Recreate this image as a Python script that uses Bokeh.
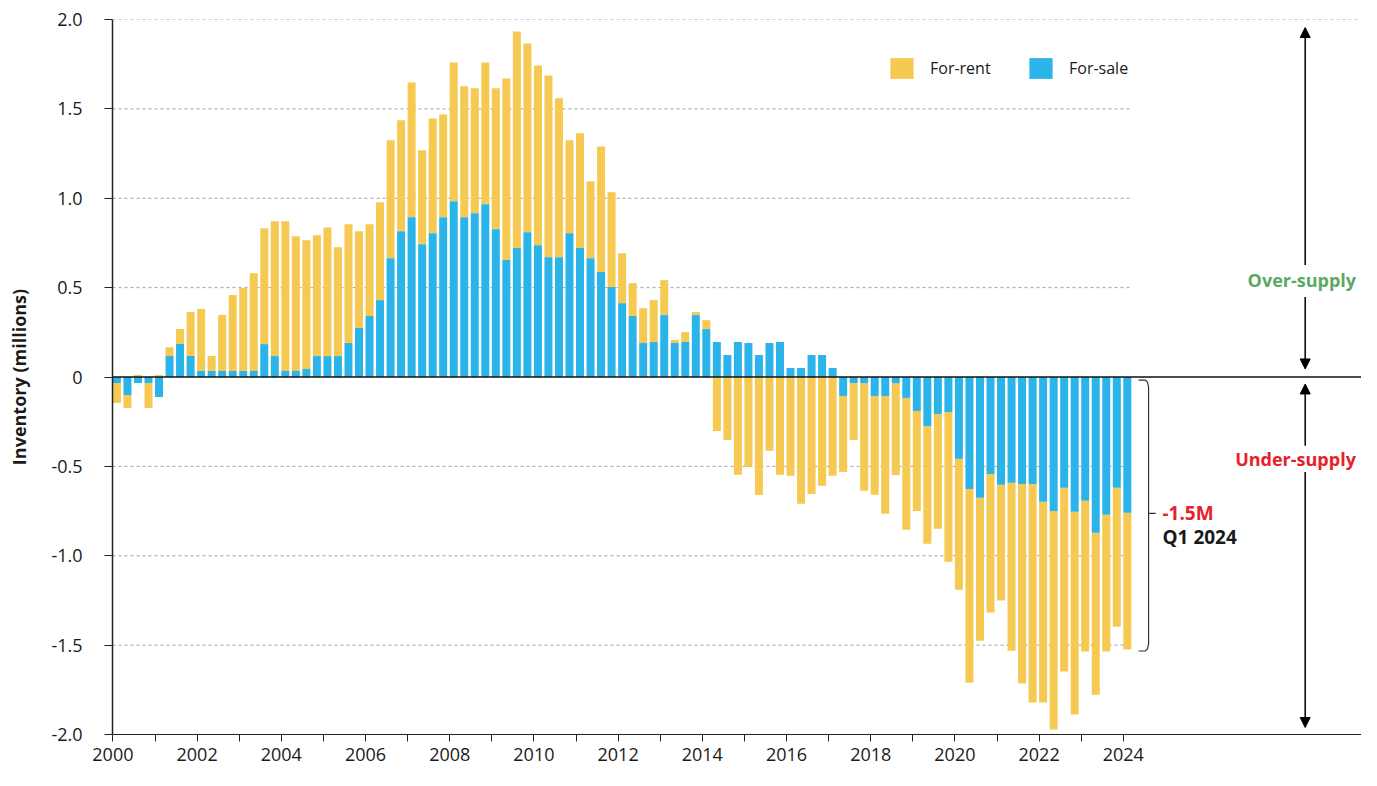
from bokeh.plotting import figure
from bokeh.models import (FixedTicker, Legend, LegendItem, Arrow, NormalHead, Label,
                          Span, CustomJSTickFormatter, ColumnDataSource)
from bokeh.embed import file_html
from bokeh.resources import INLINE

# ---------------- data (millions of units, quarterly 2000 Q1 .. 2024 Q1) ----------------
start_year = 2000
year_ticks = list(range(2000, 2025))
y_ticks = [-2.0, -1.5, -1.0, -0.5, 0.0, 0.5, 1.0, 1.5, 2.0]

for_sale = [
    -0.034, -0.100, -0.034, -0.034,   # 2000
    -0.112, 0.117, 0.184, 0.117,      # 2001
    0.034, 0.034, 0.034, 0.034,       # 2002
    0.034, 0.034, 0.184, 0.117,       # 2003
    0.034, 0.034, 0.045, 0.117,       # 2004
    0.117, 0.117, 0.190, 0.274,       # 2005
    0.341, 0.430, 0.665, 0.816,       # 2006
    0.894, 0.743, 0.804, 0.894,       # 2007
    0.983, 0.894, 0.916, 0.966,       # 2008
    0.827, 0.654, 0.721, 0.810,       # 2009
    0.737, 0.670, 0.670, 0.804,       # 2010
    0.721, 0.665, 0.587, 0.503,       # 2011
    0.413, 0.341, 0.190, 0.196,       # 2012
    0.346, 0.190, 0.196, 0.346,       # 2013
    0.268, 0.196, 0.123, 0.196,       # 2014
    0.190, 0.123, 0.190, 0.196,       # 2015
    0.050, 0.050, 0.123, 0.123,       # 2016
    0.050, -0.106, -0.034, -0.034,    # 2017
    -0.106, -0.106, -0.034, -0.117,   # 2018
    -0.190, -0.274, -0.207, -0.196,   # 2019
    -0.458, -0.626, -0.676, -0.542,   # 2020
    -0.603, -0.592, -0.598, -0.598,   # 2021
    -0.698, -0.749, -0.620, -0.754,   # 2022
    -0.693, -0.871, -0.771, -0.620,   # 2023
    -0.760,                           # 2024 Q1
]

for_rent = [
    -0.112, -0.073, 0.011, -0.140,    # 2000
    0.011, 0.050, 0.084, 0.246,       # 2001
    0.346, 0.084, 0.313, 0.425,       # 2002
    0.464, 0.547, 0.648, 0.754,       # 2003
    0.838, 0.754, 0.720, 0.676,       # 2004
    0.720, 0.609, 0.665, 0.542,       # 2005
    0.514, 0.547, 0.659, 0.620,       # 2006
    0.754, 0.525, 0.642, 0.575,       # 2007
    0.777, 0.732, 0.699, 0.794,       # 2008
    0.788, 1.016, 1.212, 1.056,       # 2009
    1.006, 1.017, 0.889, 0.520,       # 2010
    0.642, 0.430, 0.703, 0.531,       # 2011
    0.280, 0.184, 0.195, 0.234,       # 2012
    0.196, 0.017, 0.055, 0.017,       # 2013
    0.050, -0.302, -0.352, -0.547,    # 2014
    -0.503, -0.660, -0.413, -0.547,   # 2015
    -0.553, -0.709, -0.654, -0.609,   # 2016
    -0.553, -0.425, -0.318, -0.603,   # 2017
    -0.553, -0.659, -0.514, -0.737,   # 2018
    -0.559, -0.659, -0.642, -0.838,   # 2019
    -0.732, -1.084, -0.799, -0.776,   # 2020
    -0.648, -0.939, -1.117, -1.223,   # 2021
    -1.123, -1.223, -1.028, -1.134,   # 2022
    -0.843, -0.906, -0.765, -0.777,   # 2023
    -0.765,                           # 2024 Q1
]

YELLOW = "#F5C952"
BLUE = "#2BB4E9"
FONT = "Open Sans"
TXT = "#1a1a1a"

# ---------------- stacking ----------------
n = len(for_sale)
xq = [start_year + i * 0.25 + 0.095 for i in range(n)]
sale_top = list(for_sale)
sale_bot = [0.0] * n
rent_bot = [s if (s >= 0) == (r >= 0) else 0.0 for s, r in zip(for_sale, for_rent)]
rent_top = [b + r for b, r in zip(rent_bot, for_rent)]

src = ColumnDataSource(dict(x=xq, sb=sale_bot, st=sale_top, rb=rent_bot, rt=rent_top))

# ---------------- figure ----------------
W, H = 1361, 770
ML, MR, MT, MB = 112, 0, 19, 36
px_per_year = 42.1
x0 = 1999.99
x1 = x0 + (W - ML - MR) / px_per_year

p = figure(width=W, height=H, x_range=(x0, x1), y_range=(-2, 2),
           output_backend="svg", toolbar_location=None,
           min_border_left=ML, min_border_right=MR, min_border_top=MT, min_border_bottom=MB)
p.outline_line_color = None
p.xgrid.visible = False
p.ygrid.visible = False
p.background_fill_color = "white"
p.border_fill_color = "white"

# grid lines (dotted)
grid_levels = [v for v in y_ticks if v not in (0.0, 2.0, -2.0)]
p.segment(x0=[x0] * len(grid_levels), y0=grid_levels, x1=[2024.18] * len(grid_levels),
          y1=grid_levels, line_color="#a0a0a0", line_width=1, line_dash="3 3")
p.add_layout(Span(location=2.0, dimension="width", line_color="#a0a0a0",
                  line_width=1, line_dash="3 3"))

rent_r = p.vbar(x="x", bottom="rb", top="rt", width=0.19, source=src,
                fill_color=YELLOW, line_color=None)
sale_r = p.vbar(x="x", bottom="sb", top="st", width=0.19, source=src,
                fill_color=BLUE, line_color=None)

p.add_layout(Span(location=0, dimension="width", line_color="#111111", line_width=1.5))

# axes
p.yaxis.ticker = FixedTicker(ticks=y_ticks)
p.yaxis.formatter = CustomJSTickFormatter(code="return Math.abs(tick) < 1e-9 ? '0' : tick.toFixed(1);")
p.yaxis.axis_line_color = "#222222"
p.yaxis.axis_line_width = 1.5
p.yaxis.major_tick_line_color = "#222222"
p.yaxis.major_tick_out = 8
p.yaxis.major_tick_in = 0
p.yaxis.minor_tick_line_color = None
p.yaxis.major_label_standoff = 22
p.yaxis.major_label_text_font = FONT
p.yaxis.major_label_text_font_size = "18px"
p.yaxis.major_label_text_color = TXT
p.yaxis.axis_label = "Inventory (millions)"
p.yaxis.axis_label_text_font = FONT
p.yaxis.axis_label_text_font_style = "bold"
p.yaxis.axis_label_text_font_size = "18px"
p.yaxis.axis_label_text_color = TXT
p.yaxis.axis_label_standoff = 17

p.xaxis.ticker = FixedTicker(ticks=year_ticks)
p.xaxis.formatter = CustomJSTickFormatter(code="return (Math.round(tick) % 2 == 0) ? String(Math.round(tick)) : '';")
p.xaxis.axis_line_color = "#222222"
p.xaxis.axis_line_width = 1.2
p.xaxis.major_tick_line_color = "#222222"
p.xaxis.major_tick_out = 7
p.xaxis.major_tick_in = 0
p.xaxis.minor_tick_line_color = None
p.xaxis.major_label_standoff = 6
p.xaxis.major_label_text_font = FONT
p.xaxis.major_label_text_font_size = "18px"
p.xaxis.major_label_text_color = TXT

# legends
frame_h = H - MT - MB
for label, rend, xpos in [("For-rent", rent_r, 775), ("For-sale", sale_r, 914)]:
    leg = Legend(items=[LegendItem(label=label, renderers=[rend])],
                 location=(xpos, frame_h - 62), orientation="horizontal",
                 glyph_width=29, glyph_height=26, label_standoff=14,
                 padding=0, margin=0, spacing=0, border_line_color=None,
                 background_fill_alpha=0, label_text_font=FONT,
                 label_text_font_size="16px", label_text_color=TXT)
    p.add_layout(leg, "center")

# over/under supply arrows
xa = 2028.32
for ys, ye in [(0.626, 1.955), (0.447, 0.045), (-0.385, -0.039), (-0.531, -1.961)]:
    p.add_layout(Arrow(end=NormalHead(size=10, fill_color="black", line_color="black", line_width=1),
                       x_start=xa, y_start=ys, x_end=xa, y_end=ye,
                       line_color="black", line_width=1.5))

p.add_layout(Label(x=2028.24, y=0.542, text="Over-supply", text_align="center", text_baseline="middle",
                   text_font=FONT, text_font_style="bold", text_font_size="18px", text_color="#5BA864"))
p.add_layout(Label(x=2028.09, y=-0.458, text="Under-supply", text_align="center", text_baseline="middle",
                   text_font=FONT, text_font_style="bold", text_font_size="18px", text_color="#E8202A"))

# bracket for Q1 2024
total_2024 = for_sale[-1] + for_rent[-1]
bt, bb = -0.017, total_2024 - 0.008
bx = [2024.36, 2024.52, 2024.575, 2024.6, 2024.6, 2024.575, 2024.52, 2024.36]
by = [bt, bt, bt - 0.012, bt - 0.04, bb + 0.04, bb + 0.012, bb, bb]
p.line(bx, by, line_color="#333333", line_width=1.2)
ymid = total_2024 / 2
p.line([2024.6, 2024.77], [ymid, ymid], line_color="#333333", line_width=1.2)
p.add_layout(Label(x=2024.93, y=ymid, text="-1.5M", text_align="left", text_baseline="middle",
                   text_font=FONT, text_font_style="bold", text_font_size="19px", text_color="#E8202A"))
p.add_layout(Label(x=2024.93, y=ymid - 0.134, text="Q1 2024", text_align="left", text_baseline="middle",
                   text_font=FONT, text_font_style="bold", text_font_size="19px", text_color=TXT))

open("out.html", "w").write(file_html(p, INLINE))
